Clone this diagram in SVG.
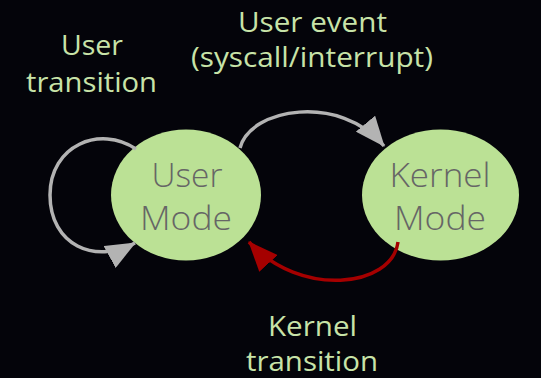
<svg xmlns="http://www.w3.org/2000/svg" width="541" height="378" viewBox="0 0 541 378">
  <style>
    .node { fill: #bbe195; }
    .ntext { font-family: "Open Sans", "Liberation Sans", sans-serif; font-weight: 300; font-size: 33px; fill: #666666; text-anchor: middle; }
    .label { font-family: "Open Sans", "Liberation Sans", sans-serif; font-weight: 400; font-size: 27px; fill: #c8e3a8; text-anchor: middle; }
    .edge { fill: none; stroke-width: 3.5; }
    .gray { stroke: #b3b3b3; }
    .red { stroke: #a50000; }
  </style>
  <defs>
    <marker id="headGray" viewBox="0 0 30 25" refX="29" refY="12.5" markerWidth="30" markerHeight="25" markerUnits="userSpaceOnUse" orient="auto">
      <path d="M0,0 L30,12.5 L0,25 z" fill="#b3b3b3"/>
    </marker>
    <marker id="headRed" viewBox="0 0 30 25" refX="29" refY="12.5" markerWidth="30" markerHeight="25" markerUnits="userSpaceOnUse" orient="auto">
      <path d="M0,0 L30,12.5 L0,25 z" fill="#a50000"/>
    </marker>
  </defs>
  <rect width="541" height="378" fill="#04040a"/>

  <g id="user-mode">
    <ellipse class="node" cx="186" cy="195" rx="75" ry="65.5"/>
    <text class="ntext" x="187" y="187" textLength="71" lengthAdjust="spacingAndGlyphs">User</text>
    <text class="ntext" x="186" y="230" textLength="92" lengthAdjust="spacingAndGlyphs">Mode</text>
  </g>

  <g id="kernel-mode">
    <ellipse class="node" cx="440.5" cy="195" rx="78.5" ry="65.5"/>
    <text class="ntext" x="440" y="187" textLength="101" lengthAdjust="spacingAndGlyphs">Kernel</text>
    <text class="ntext" x="440" y="230" textLength="92" lengthAdjust="spacingAndGlyphs">Mode</text>
  </g>

  <g id="connectors">
    <path class="edge gray" d="M240,148 C250,108 340,93 384,146" marker-end="url(#headGray)"/>
    <path class="edge gray" d="M136,149 C100,125 50,145 50,195 C50,245 95,265 135,243" marker-end="url(#headGray)"/>
    <path class="edge red" d="M398,242 C392,288 300,298 249,242" marker-end="url(#headRed)"/>
  </g>

  <g id="labels">
    <text class="label" x="92" y="55" textLength="62" lengthAdjust="spacingAndGlyphs">User</text>
    <text class="label" x="91.5" y="92" textLength="131" lengthAdjust="spacingAndGlyphs">transition</text>
    <text class="label" x="312.5" y="32" textLength="149" lengthAdjust="spacingAndGlyphs">User event</text>
    <text class="label" x="312" y="67" textLength="242" lengthAdjust="spacingAndGlyphs">(syscall/interrupt)</text>
    <text class="label" x="312.5" y="336" textLength="89" lengthAdjust="spacingAndGlyphs">Kernel</text>
    <text class="label" x="312" y="371" textLength="132" lengthAdjust="spacingAndGlyphs">transition</text>
  </g>
</svg>
